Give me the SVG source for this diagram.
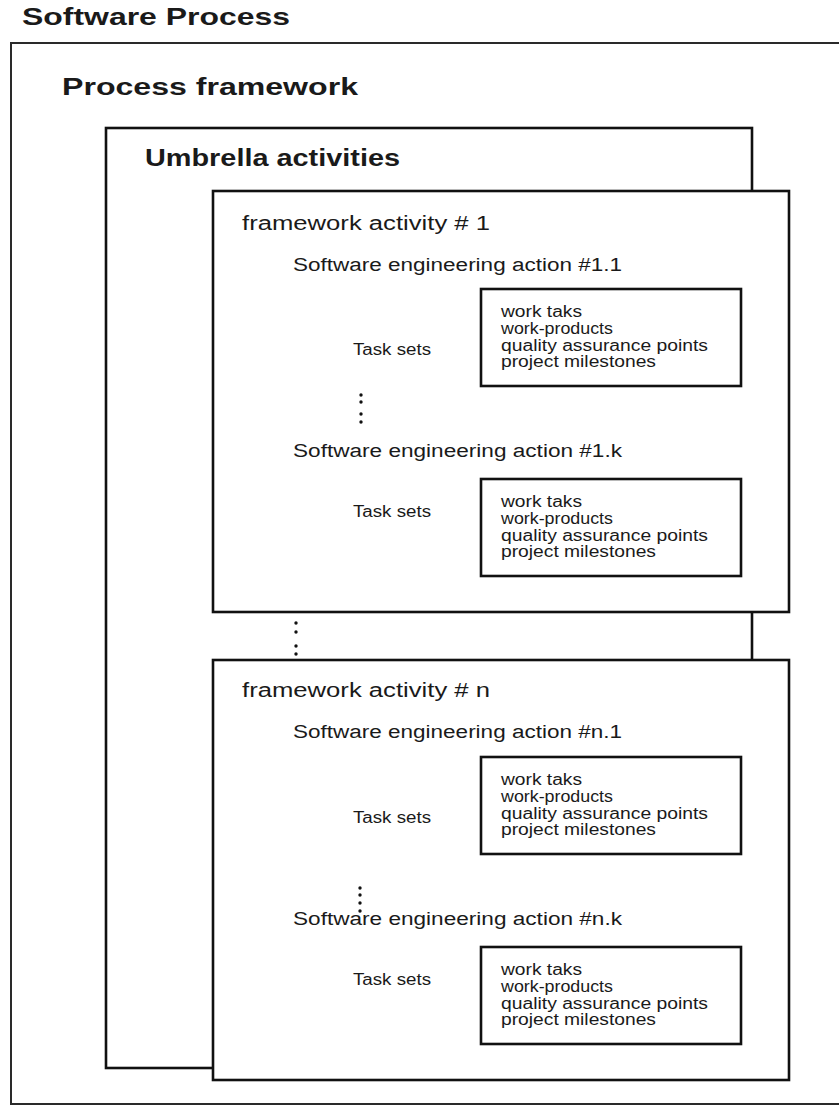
<svg xmlns="http://www.w3.org/2000/svg" width="839" height="1106" viewBox="0 0 839 1106">
  <style>
    text { font-family: "Liberation Sans", Arial, sans-serif; fill: #1a1a1a; }
    .h1 { font-size: 24px; font-weight: bold; }
    .h2 { font-size: 23px; font-weight: bold; }
    .act { font-size: 20px; }
    .action { font-size: 18px; }
    .tasks { font-size: 16px; }
    .item { font-size: 16px; }
    .frame { fill: #fff; stroke: #2a2a2a; stroke-width: 2; }
    .box { fill: #fff; stroke: #111; stroke-width: 2.6; }
    .dot { fill: #111; }
  </style>
  <defs>
    <!-- inner work-product list box with its four lines -->
    <g id="worklist">
      <rect class="box" x="0" y="0" width="260" height="97"/>
      <text class="item" x="20" y="28" textLength="81" lengthAdjust="spacingAndGlyphs">work taks</text>
      <text class="item" x="20" y="45" textLength="112" lengthAdjust="spacingAndGlyphs">work-products</text>
      <text class="item" x="20" y="62" textLength="207" lengthAdjust="spacingAndGlyphs">quality assurance points</text>
      <text class="item" x="20" y="78" textLength="155" lengthAdjust="spacingAndGlyphs">project milestones</text>
    </g>
  </defs>

  <rect width="839" height="1106" fill="#fff"/>

  <g id="software-process">
    <text class="h1" x="22" y="25" textLength="268" lengthAdjust="spacingAndGlyphs">Software Process</text>
    <rect class="frame" x="11" y="43" width="840" height="1061"/>
  </g>

  <g id="process-framework">
    <text class="h2" x="62" y="95" textLength="296" lengthAdjust="spacingAndGlyphs">Process framework</text>
  </g>

  <g id="umbrella-activities">
    <rect class="box" x="106" y="128" width="646" height="940"/>
    <text class="h2" x="145" y="166" textLength="255" lengthAdjust="spacingAndGlyphs">Umbrella activities</text>
  </g>

  <g id="framework-activity-1">
    <rect class="box" x="213" y="191" width="576" height="421"/>
    <text class="act" x="242" y="230" textLength="248" lengthAdjust="spacingAndGlyphs">framework activity # 1</text>
    <text class="action" x="293" y="271" textLength="329" lengthAdjust="spacingAndGlyphs">Software engineering action #1.1</text>
    <text class="tasks" x="353" y="355" textLength="78" lengthAdjust="spacingAndGlyphs">Task sets</text>
    <use href="#worklist" x="481" y="289"/>
    <g class="dot">
      <circle cx="361" cy="395" r="1.7"/>
      <circle cx="361" cy="402" r="1.7"/>
      <circle cx="361" cy="414" r="1.7"/>
      <circle cx="361" cy="422" r="1.7"/>
    </g>
    <text class="action" x="293" y="457" textLength="329" lengthAdjust="spacingAndGlyphs">Software engineering action #1.k</text>
    <text class="tasks" x="353" y="517" textLength="78" lengthAdjust="spacingAndGlyphs">Task sets</text>
    <use href="#worklist" x="481" y="479"/>
  </g>

  <!-- ellipsis between the first and the last framework activity -->
  <g id="activity-ellipsis" class="dot">
    <circle cx="296" cy="623" r="1.7"/>
    <circle cx="296" cy="632" r="1.7"/>
    <circle cx="296" cy="646" r="1.7"/>
    <circle cx="296" cy="654" r="1.7"/>
  </g>

  <g id="framework-activity-n">
    <rect class="box" x="213" y="660" width="576" height="420"/>
    <text class="act" x="242" y="697" textLength="248" lengthAdjust="spacingAndGlyphs">framework activity # n</text>
    <text class="action" x="293" y="738" textLength="329" lengthAdjust="spacingAndGlyphs">Software engineering action #n.1</text>
    <text class="tasks" x="353" y="823" textLength="78" lengthAdjust="spacingAndGlyphs">Task sets</text>
    <use href="#worklist" x="481" y="757"/>
    <g class="dot">
      <circle cx="360" cy="888" r="1.7"/>
      <circle cx="360" cy="895" r="1.7"/>
      <circle cx="360" cy="903" r="1.7"/>
      <circle cx="360" cy="911" r="1.7"/>
    </g>
    <text class="action" x="293" y="925" textLength="329" lengthAdjust="spacingAndGlyphs">Software engineering action #n.k</text>
    <text class="tasks" x="353" y="985" textLength="78" lengthAdjust="spacingAndGlyphs">Task sets</text>
    <use href="#worklist" x="481" y="947"/>
  </g>
</svg>
